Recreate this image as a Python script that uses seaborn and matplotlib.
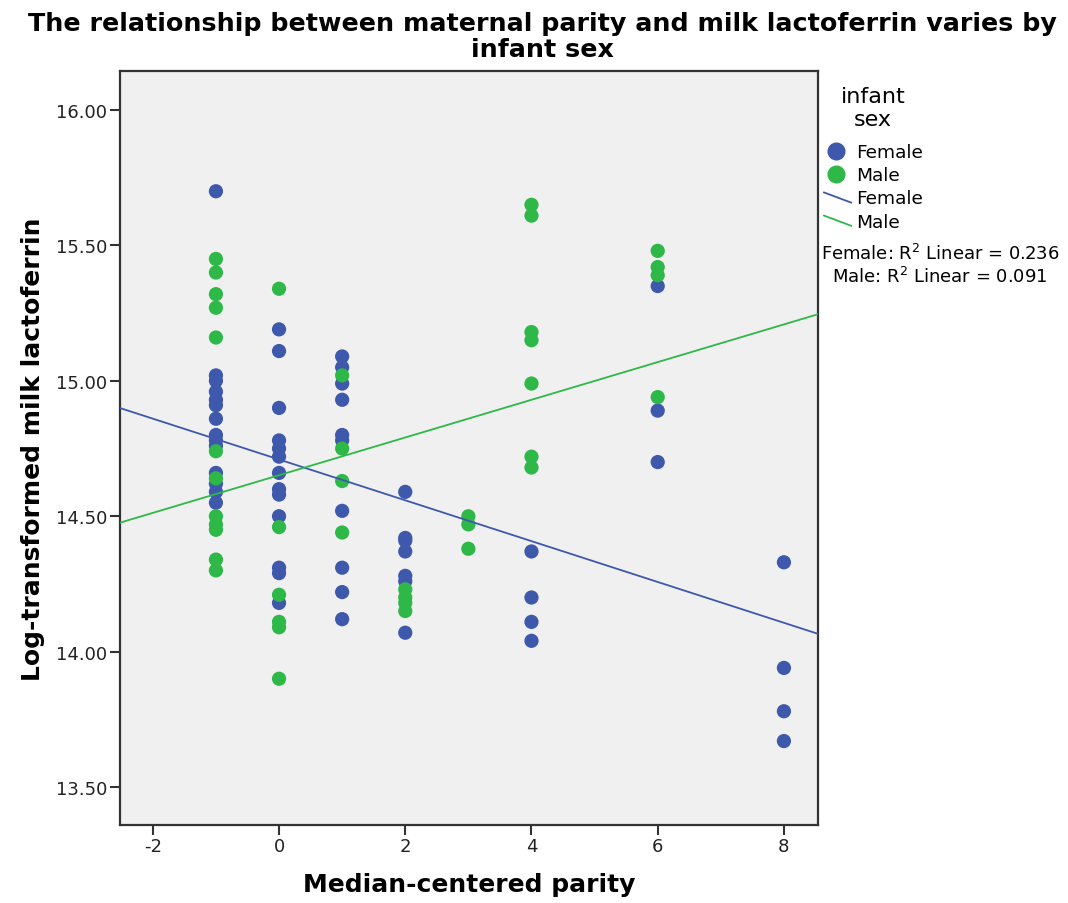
import numpy as np
import pandas as pd
import matplotlib
matplotlib.use("Agg")
import matplotlib.pyplot as plt
from matplotlib.lines import Line2D
from matplotlib.legend_handler import HandlerLine2D
import seaborn as sns

# ---- data ----
female_parity = [-1]*14 + [0]*13 + [1]*10 + [2]*7 + [4]*4 + [6]*3 + [8]*4
female_lactoferrin = [
    15.70, 15.02, 15.00, 14.96, 14.93, 14.91, 14.86, 14.80, 14.78, 14.76, 14.66, 14.62, 14.59, 14.55,
    15.19, 15.11, 14.90, 14.78, 14.75, 14.72, 14.66, 14.60, 14.58, 14.50, 14.31, 14.29, 14.18,
    15.09, 15.05, 14.99, 14.93, 14.80, 14.78, 14.52, 14.31, 14.22, 14.12,
    14.59, 14.42, 14.41, 14.37, 14.28, 14.26, 14.07,
    14.37, 14.20, 14.11, 14.04,
    15.35, 14.89, 14.70,
    14.33, 13.94, 13.78, 13.67,
]
male_parity = [-1]*12 + [0]*6 + [1]*4 + [2]*4 + [3]*3 + [4]*7 + [6]*4
male_lactoferrin = [
    15.45, 15.40, 15.32, 15.27, 15.16, 14.74, 14.64, 14.50, 14.47, 14.45, 14.34, 14.30,
    15.34, 14.46, 14.21, 14.11, 14.09, 13.90,
    15.02, 14.75, 14.63, 14.44,
    14.23, 14.20, 14.18, 14.15,
    14.50, 14.47, 14.38,
    15.65, 15.61, 15.18, 15.15, 14.99, 14.72, 14.68,
    15.48, 15.42, 15.39, 14.94,
]
sexes = ["Female", "Male"]
r2_labels = ["Female: R$^2$ Linear = 0.236", "Male: R$^2$ Linear = 0.091"]
x_ticks = [-2, 0, 2, 4, 6, 8]
y_ticks = [13.50, 14.00, 14.50, 15.00, 15.50, 16.00]

df = pd.DataFrame({
    "parity": female_parity + male_parity,
    "lactoferrin": female_lactoferrin + male_lactoferrin,
    "sex": ["Female"]*len(female_parity) + ["Male"]*len(male_parity),
})

colors = {"Female": "#3E58AC", "Male": "#2EB848"}

sns.set_theme(style="white")
plt.rcParams['font.family'] = ['DejaVu Sans']
plt.rcParams['text.color'] = 'black'

fig = plt.figure(figsize=(10.68, 9.04), dpi=100)
ax = fig.add_axes([120/1068, 1-826/904, (818-120)/1068, (826-72)/904])
ax.set_facecolor("#F0F0F0")
ax.set_xlim(-2.52, 8.54)
ax.set_ylim(13.36, 16.144)

sns.scatterplot(data=df, x="parity", y="lactoferrin", hue="sex", palette=colors,
                hue_order=sexes, s=105, edgecolor="none", linewidth=0, legend=False,
                ax=ax, zorder=3)
for sx in sexes:
    sub = df[df["sex"] == sx]
    sns.regplot(data=sub, x="parity", y="lactoferrin", scatter=False, ci=None,
                truncate=False, color=colors[sx], line_kws={"linewidth": 1.3, "zorder": 4},
                ax=ax)
ax.set_xlim(-2.52, 8.54)
ax.set_ylim(13.36, 16.144)

ax.set_xticks(x_ticks)
ax.set_xticklabels([str(t) for t in x_ticks])
ax.set_yticks(y_ticks)
ax.set_yticklabels([f"{t:.2f}" for t in y_ticks])
ax.tick_params(axis="both", direction="out", length=7, width=1.5, color="#333333",
               labelsize=13, labelcolor="#222222", bottom=True, left=True, pad=2)
for sp in ax.spines.values():
    sp.set_visible(True)
    sp.set_color("#333333")
    sp.set_linewidth(1.6)

ax.set_xlabel("Median-centered parity", fontsize=18, fontweight="bold", labelpad=12, color="black")
ax.set_ylabel("Log-transformed milk lactoferrin", fontsize=18, fontweight="bold", labelpad=8, color="black")

fig.text(0.508, 1-24/904, "The relationship between maternal parity and milk lactoferrin varies by",
         ha="center", va="center", fontsize=18.3, fontweight="bold")
fig.text(0.508, 1-50/904, "infant sex", ha="center", va="center", fontsize=18.3, fontweight="bold")


class DiagonalLineHandler(HandlerLine2D):
    def create_artists(self, legend, orig_handle, xdescent, ydescent, width, height, fontsize, trans):
        x0 = -xdescent + 0.12 * width
        line = Line2D([x0, -xdescent + width],
                      [height * 0.85 - ydescent, height * 0.05 - ydescent],
                      color=orig_handle.get_color(), linewidth=orig_handle.get_linewidth())
        line.set_transform(trans)
        return [line]


fig.text(873/1068, 1-97/904, "infant", ha="center", va="center", fontsize=16)
fig.text(873/1068, 1-120/904, "sex", ha="center", va="center", fontsize=16)

handles = [
    Line2D([], [], marker="o", linestyle="none", color=colors["Female"], markersize=12),
    Line2D([], [], marker="o", linestyle="none", color=colors["Male"], markersize=12),
    Line2D([], [], color=colors["Female"], linewidth=1.3),
    Line2D([], [], color=colors["Male"], linewidth=1.3),
]
leg = fig.legend(handles, ["Female", "Male", "Female", "Male"],
                 loc="upper left", bbox_to_anchor=(820/1068, 1-144/904), frameon=False,
                 fontsize=13.3, handlelength=1.7, handletextpad=0.25,
                 labelspacing=0.28, borderaxespad=0, borderpad=0,
                 handler_map={handles[2]: DiagonalLineHandler(), handles[3]: DiagonalLineHandler()})

fig.text(940/1068, 1-254/904, r2_labels[0], ha="center", va="center", fontsize=13)
fig.text(940/1068, 1-277/904, r2_labels[1], ha="center", va="center", fontsize=13)

fig.savefig("out.png", dpi=100)
